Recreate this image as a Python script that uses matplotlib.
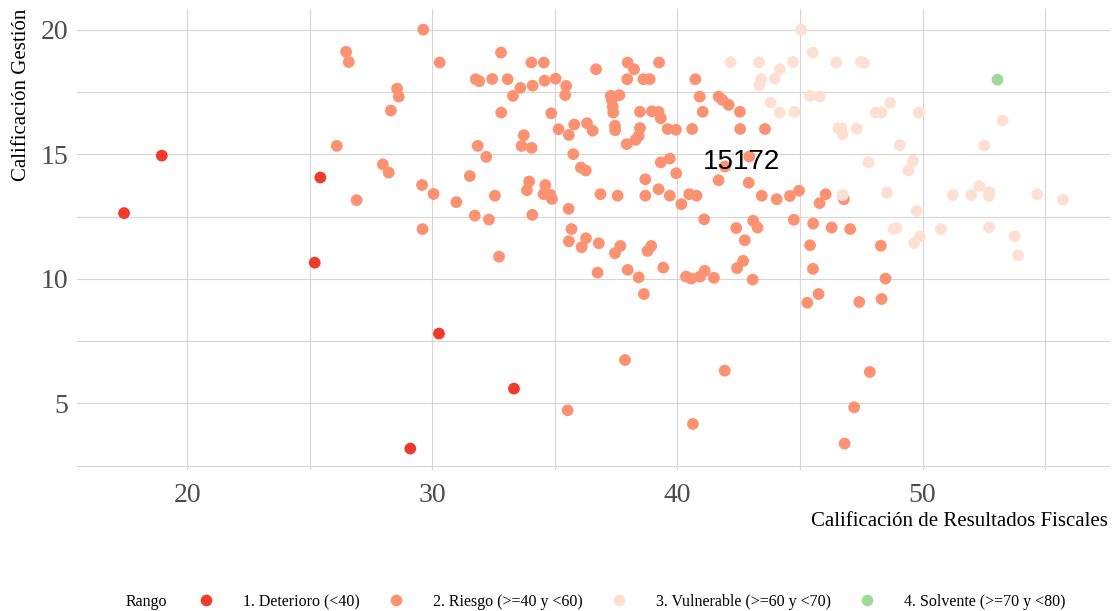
import matplotlib
matplotlib.use("Agg")
import matplotlib.pyplot as plt
from matplotlib.lines import Line2D
from matplotlib.ticker import MultipleLocator

# ---------------- data ----------------
categories = ["1. Deterioro (<40)", "2. Riesgo (>=40 y <60)",
              "3. Vulnerable (>=60 y <70)", "4. Solvente (>=70 y <80)"]
colors = ["#EF3B2C", "#FC9272", "#FEE0D2", "#A1D99B"]

deterioro_x = [17.42, 18.96, 25.43, 25.20, 30.27, 33.33, 29.10]
deterioro_y = [12.64, 14.95, 14.07, 10.65, 7.80, 5.59, 3.18]

riesgo_x = [
    26.48, 26.59, 29.63, 30.30, 32.80, 34.04, 34.55, 36.68, 31.77, 31.91,
    32.44, 33.07, 33.59, 34.09, 34.58, 35.03, 35.46, 35.42, 33.29, 28.56,
    28.63, 28.31, 32.81, 34.85, 35.15, 35.79, 35.57, 36.31, 36.54, 26.10,
    31.85, 33.73, 33.64, 34.05, 32.20, 35.75, 36.06, 36.26, 27.98, 28.22,
    31.53, 29.58, 30.05, 30.98, 32.55, 33.95, 33.86, 34.61, 34.54, 34.81,
    34.88, 36.86, 26.91, 31.73, 32.31, 34.08, 35.56, 35.68, 36.27, 29.60,
    35.57, 36.09, 36.79, 32.72, 36.74, 35.52,
    37.97, 38.23, 37.95, 38.61, 38.87, 39.25, 40.73, 40.91, 41.03, 41.68,
    41.83, 42.09, 42.55, 42.56, 43.57, 40.60, 37.28, 37.63, 37.32, 37.36,
    37.38, 38.47, 38.96, 39.23, 39.32, 37.45, 37.46, 38.47, 38.42, 38.29,
    37.93, 39.60, 39.94, 39.32, 39.69, 39.95, 38.69, 39.23, 38.69, 39.69,
    37.56, 40.16, 40.48, 40.78, 41.68, 41.94, 42.93, 42.91, 43.44, 44.05,
    44.59, 44.96, 46.05, 45.80, 41.09, 42.40, 43.09, 43.27, 42.75, 44.75,
    45.54, 46.29,
    37.67, 37.45, 38.93, 38.78, 37.97, 38.42, 38.63, 39.42, 40.35, 40.56,
    40.92, 41.11, 41.49, 45.41, 45.53, 42.43, 42.68, 43.07, 45.76, 45.30,
    37.86, 41.93, 40.63,
    46.79, 47.05, 48.30, 48.49, 47.42, 48.33, 47.85, 47.21, 46.82,
]
riesgo_y = [
    19.12, 18.71, 20.01, 18.69, 19.09, 18.69, 18.69, 18.42, 18.02, 17.94,
    18.03, 18.02, 17.67, 17.76, 17.96, 18.04, 17.75, 17.38, 17.35, 17.64,
    17.32, 16.76, 16.68, 16.65, 16.01, 16.20, 15.78, 16.25, 15.95, 15.34,
    15.34, 15.77, 15.34, 15.26, 14.90, 15.01, 14.47, 14.35, 14.60, 14.27,
    14.13, 13.77, 13.41, 13.08, 13.34, 13.91, 13.56, 13.77, 13.40, 13.38,
    13.21, 13.40, 13.16, 12.54, 12.38, 12.57, 12.81, 12.00, 11.63, 12.00,
    11.51, 11.27, 11.43, 10.89, 10.25, 4.72,
    18.69, 18.42, 18.02, 18.02, 18.02, 18.69, 18.02, 17.32, 16.71, 17.32,
    17.19, 16.99, 16.71, 16.02, 16.02, 16.02, 17.35, 17.38, 17.19, 16.92,
    16.68, 16.71, 16.73, 16.71, 16.45, 16.15, 15.97, 16.06, 15.74, 15.58,
    15.41, 16.02, 15.99, 14.68, 14.83, 14.24, 14.00, 13.60, 13.34, 13.34,
    13.34, 13.00, 13.40, 13.34, 13.96, 14.51, 14.91, 13.86, 13.34, 13.20,
    13.33, 13.54, 13.40, 13.04, 12.39, 12.04, 12.33, 12.06, 11.55, 12.37,
    12.22, 12.06,
    11.32, 11.03, 11.32, 11.12, 10.36, 10.06, 9.39, 10.45, 10.09, 10.01,
    10.09, 10.32, 10.04, 11.35, 10.40, 10.43, 10.72, 9.97, 9.39, 9.04,
    6.74, 6.31, 4.17,
    13.20, 12.00, 11.33, 10.01, 9.07, 9.19, 6.26, 4.84, 3.38,
]

vulnerable_x = [
    42.17, 43.33, 44.18, 44.72, 45.05, 45.52, 43.42, 43.34, 43.98, 43.80,
    44.17, 44.78, 45.41, 45.81, 46.48, 46.56, 46.70, 47.49, 47.61, 48.68,
    48.09, 48.33, 49.85, 53.27, 46.74, 47.32, 49.07, 52.52, 47.79, 49.61,
    49.42, 46.74, 48.55, 51.24, 51.99, 52.31, 52.72, 52.71, 54.68, 55.73,
    49.76, 48.81, 48.93, 49.89, 49.66, 50.75, 52.72, 53.76, 53.90,
]
vulnerable_y = [
    18.70, 18.70, 18.42, 18.71, 20.01, 19.09, 18.02, 17.78, 18.04, 17.08,
    16.68, 16.71, 17.36, 17.32, 18.69, 16.05, 16.05, 18.71, 18.67, 17.07,
    16.68, 16.68, 16.68, 16.36, 15.81, 16.03, 15.37, 15.35, 14.68, 14.74,
    14.35, 13.36, 13.46, 13.37, 13.36, 13.73, 13.49, 13.33, 13.40, 13.18,
    12.72, 12.00, 12.04, 11.70, 11.44, 12.00, 12.07, 11.71, 10.95,
]

solvente_x = [53.06]
solvente_y = [18.00]

series_x = [deterioro_x, riesgo_x, vulnerable_x, solvente_x]
series_y = [deterioro_y, riesgo_y, vulnerable_y, solvente_y]

label_text = "15172"
label_pos = (42.62, 14.68)

x_major = [20, 30, 40, 50]
y_major = [5, 10, 15, 20]

# ---------------- figure ----------------
W, H = 1112, 611
fig = plt.figure(figsize=(W / 100, H / 100), dpi=100)
ax = fig.add_axes([77 / W, 1 - 470 / H, (1110 - 77) / W, (470 - 9) / H])

for xs, ys, c in zip(series_x, series_y, colors):
    ax.scatter(xs, ys, s=72, color=c, edgecolors="none", zorder=3)

ax.text(label_pos[0], label_pos[1], label_text, ha="center", va="center",
        fontsize=20, color="black", family="Liberation Sans", zorder=4)

ax.set_xlim(15.5, 57.65)
ax.set_ylim(2.32, 20.84)
ax.set_xticks(x_major)
ax.set_yticks(y_major)
ax.xaxis.set_minor_locator(MultipleLocator(5))
ax.yaxis.set_minor_locator(MultipleLocator(2.5))
ax.grid(True, which="both", color="#d6d6d6", linewidth=0.8, zorder=0)
ax.set_axisbelow(True)
for sp in ax.spines.values():
    sp.set_visible(False)
ax.tick_params(which="both", length=0)
ax.tick_params(axis="x", pad=9)
ax.tick_params(axis="y", pad=6)
for lab in ax.get_xticklabels() + ax.get_yticklabels():
    lab.set_family("Liberation Serif")
    lab.set_fontsize(20)
    lab.set_color("#4D4D4D")

fig.text(1108 / W, 1 - 522 / H, "Calificación de Resultados Fiscales",
         ha="right", va="center", family="Liberation Serif", fontsize=15)
fig.text(22 / W, 1 - 9 / H, "Calificación Gestión", rotation=90,
         ha="center", va="top", family="Liberation Serif", fontsize=15)

# legend
fig.text(126 / W, 1 - 602 / H, "Rango", ha="left", va="center",
         family="Liberation Serif", fontsize=11.5)
handles = [Line2D([], [], linestyle="none", marker="o", markersize=8.4,
                  markerfacecolor=c, markeredgecolor="none") for c in colors]
leg = fig.legend(handles, categories, ncol=4, loc="center left",
                 bbox_to_anchor=(190 / W, 1 - 602 / H), frameon=False,
                 borderpad=0, borderaxespad=0, handlelength=2,
                 handletextpad=1.29, columnspacing=1.3,
                 prop={"family": "Liberation Serif", "size": 11.5})

fig.savefig("out.png", dpi=100)
